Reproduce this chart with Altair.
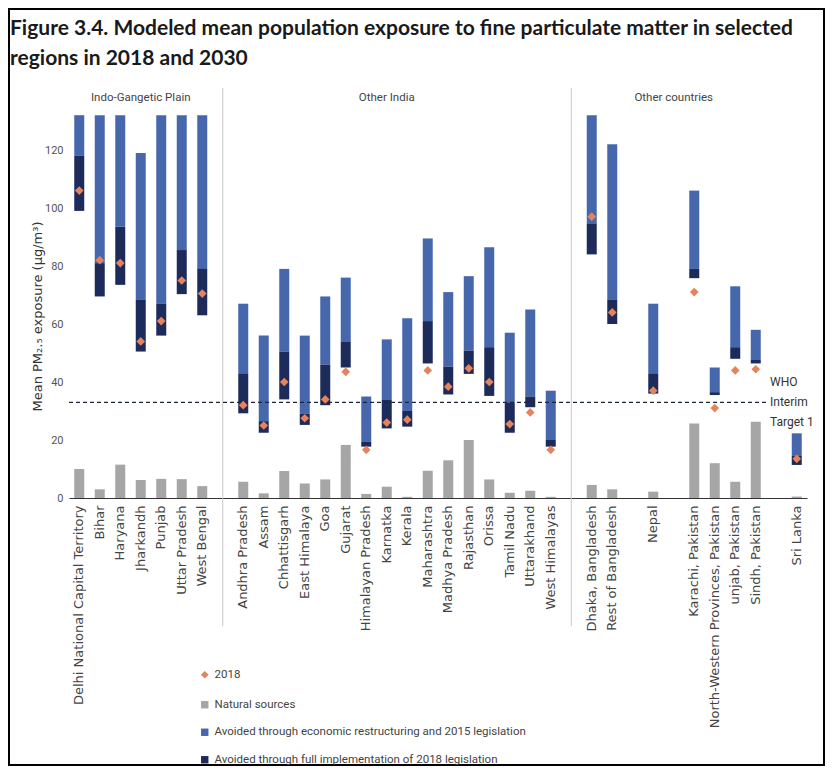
import altair as alt
import pandas as pd

# ---------------- data ----------------
igp = ["Delhi National Capital Territory", "Bihar", "Haryana", "Jharkandh",
       "Punjab", "Uttar Pradesh", "West Bengal"]
other_india = ["Andhra Pradesh", "Assam", "Chhattisgarh", "East Himalaya", "Goa",
               "Gujarat", "Himalayan Pradesh", "Karnatka", "Kerala", "Maharashtra",
               "Madhya Pradesh", "Rajasthan", "Orissa", "Tamil Nadu", "Uttarakhand",
               "West Himalayas"]
bangladesh = ["Dhaka, Bangladesh", "Rest of Bangladesh"]
nepal = ["Nepal"]
pakistan = ["Karachi, Pakistan", "North-Western Provinces, Pakistan",
            "unjab, Pakistan", "Sindh, Pakistan"]
sri_lanka = ["Sri Lanka"]

regions = igp + other_india + bangladesh + nepal + pakistan + sri_lanka

# top of light-blue bar (2030 without new policies)
baseline_2030 = [132, 132, 132, 119, 132, 132, 132,
                 67, 56, 79, 56, 69.5, 76, 35, 54.7, 62, 89.5, 71, 76.5, 86.5, 57, 65, 37,
                 132, 122, 67, 106, 45, 73, 58, 22.3]
# boundary between light-blue and dark-blue segments
after_2015 = [118, 81, 93.5, 68.5, 67, 85.5, 79,
              43, 26.5, 50.5, 29, 46, 54, 19.5, 33.8, 30, 61, 45.3, 50.8, 52, 33, 35, 20,
              94.5, 68.5, 43, 79, 36.5, 52, 47.8, 14.5]
# bottom of dark-blue bar (2030 with full 2018 legislation)
after_2018 = [99, 69.5, 73.5, 50.5, 56, 70.3, 63,
              29.2, 22.5, 34, 25.2, 32, 45, 17.7, 24, 24.6, 46.4, 35.7, 42.8, 35.2, 22.5, 31.3, 17.7,
              84, 60, 36, 75.8, 35.5, 48, 46.4, 11.4]
exposure_2018 = [106, 82, 81, 54, 61, 75, 70.5,
                 32, 25, 40, 27.5, 34, 43.5, 16.6, 26, 27, 44, 38.4, 44.7, 40, 25.5, 29.5, 16.6,
                 97, 64, 37, 71, 31, 44, 44.4, 13.5]
natural = [10, 3, 11.5, 6.2, 6.6, 6.5, 4.1,
           5.6, 1.6, 9.3, 5, 6.4, 18.3, 1.4, 3.9, 0.4, 9.4, 13, 20, 6.4, 1.8, 2.5, 0.4,
           4.5, 3, 2.2, 25.7, 12, 5.6, 26.3, 0.5]

series_names = ["Natural sources",
                "Avoided through economic restructuring and 2015 legislation",
                "Avoided through full implementation of 2018 legislation"]
series_colors = ["#A6A6A6", "#4767AD", "#1D2B5B"]

who_target = [33]
who_label = ["WHO", "Interim", "Target 1"]
group_labels = ["Indo-Gangetic Plain", "Other India", "Other countries"]
y_ticks = [0, 20, 40, 60, 80, 100, 120]

# ---------------- layout helpers ----------------
gaps = ["gap1", "gap2", "gap3", "gap4", "gap5"]
x_domain = (igp + [gaps[0]] + other_india + [gaps[1]] + bangladesh + [gaps[2]]
            + nepal + [gaps[3]] + pakistan + [gaps[4]] + sri_lanka)
group_anchor = ["Jharkandh", "Karnatka", "gap4"]

rows = []
for i, r in enumerate(regions):
    rows.append({"region": r, "series": series_names[0], "lo": 0, "hi": natural[i]})
    rows.append({"region": r, "series": series_names[1], "lo": after_2015[i], "hi": baseline_2030[i]})
    rows.append({"region": r, "series": series_names[2], "lo": after_2018[i], "hi": after_2015[i]})
bars_df = pd.DataFrame(rows)
pts_df = pd.DataFrame({"region": regions, "value": exposure_2018, "key": ["2018"] * len(regions)})
sep_df = pd.DataFrame({"region": [gaps[0], gaps[1]]})
who_df = pd.DataFrame({"v": who_target})
grp_df = pd.DataFrame({"region": group_anchor, "label": group_labels, "v": [138] * 3})

W, H = 738, 406
FONT = "Roboto"
LFONT = "DejaVu Sans"
Y_TITLE = "Mean PM₂.₅ exposure (µg/m³)"

xscale = alt.Scale(domain=x_domain, paddingInner=0, paddingOuter=0)
yscale = alt.Scale(domain=[0, 140], nice=False, zero=True)

xaxis = alt.Axis(title=None, labelAngle=-90, ticks=False, labelPadding=7,
                 labelFont=LFONT, labelFontSize=13, labelColor="#444",
                 domainColor="#333", domainWidth=1, labelLimit=400, grid=False,
                 labelExpr="indexof(datum.value, 'gap') === 0 ? '' : datum.value")
yaxis = alt.Axis(title=Y_TITLE, values=y_ticks,
                 ticks=False, domain=False, grid=False, labelPadding=6,
                 labelFont=FONT, labelFontSize=11, labelColor="#555",
                 titleFont=LFONT, titleFontSize=13, titleFontWeight="normal",
                 titleColor="#333", titleX=-32, titleY=224, titleAngle=-90,
                 titleAlign="center", titleBaseline="middle")


def X():
    return alt.X("region:N", scale=xscale, sort=x_domain, axis=xaxis, title=None)


def Y(field):
    return alt.Y(field, scale=yscale, axis=yaxis, title=Y_TITLE)


bars = alt.Chart(bars_df).mark_bar(size=10).encode(
    x=X(),
    y=Y("lo:Q"),
    y2="hi:Q",
    color=alt.Color("series:N", scale=alt.Scale(domain=series_names, range=series_colors),
                    legend=alt.Legend(title=None, orient="none", legendX=130, legendY=607,
                                      symbolType="square", symbolSize=55, symbolStrokeWidth=0,
                                      labelFont=FONT, labelFontSize=11.5, labelColor="#444",
                                      rowPadding=14.5, padding=0, labelLimit=500)),
)

points = alt.Chart(pts_df).mark_point(filled=True, size=75, color="#E4835C", opacity=1).encode(
    x=X(),
    y=Y("value:Q"),
    shape=alt.Shape("key:N", scale=alt.Scale(domain=["2018"], range=["diamond"]),
                    legend=alt.Legend(title=None, orient="none", legendX=130, legendY=577,
                                      symbolSize=60, labelFont=FONT, labelFontSize=11.5,
                                      labelColor="#444", padding=0)),
)

seps = alt.Chart(sep_df).mark_rule(color="#C8C8C8", strokeWidth=1).encode(
    x=X(),
    y=alt.value(-4),
    y2=alt.value(H + 128),
)

who_line = alt.Chart(who_df).mark_rule(color="#1D2440", strokeWidth=1.3, strokeDash=[4, 3]).encode(
    y=Y("v:Q"),
    x=alt.value(0),
    x2=alt.value(698),
)

who_text = alt.Chart(who_df).mark_text(align="left", baseline="middle", font=FONT, fontSize=12,
                                       color="#333", lineHeight=20, dy=-20).encode(
    y=Y("v:Q"),
    x=alt.value(701),
    text=alt.value(who_label),
)

grp_text = alt.Chart(grp_df).mark_text(align="center", baseline="middle", font=FONT,
                                       fontSize=11.5, color="#444").encode(
    x=X(),
    y=Y("v:Q"),
    text="label:N",
)

frame = alt.Chart(who_df).mark_rect(fill=None, stroke="#000", strokeWidth=2).encode(
    x=alt.value(-60), x2=alt.value(W + 17), y=alt.value(-83), y2=alt.value(H + 267),
)

chart = alt.layer(seps, bars, who_line, points, who_text, grp_text, frame).properties(
    width=W, height=H,
    title=alt.Title(
        text=["Figure 3.4. Modeled mean population exposure to fine particulate matter in selected",
              "regions in 2018 and 2030"],
        anchor="start", frame="group", dx=-59, dy=82, offset=0, baseline="bottom",
        font="Lato", fontSize=21, fontWeight="bold", color="#1a1a1a", lineHeight=30),
    autosize=alt.AutoSizeParams(type="none"),
    padding={"left": 61, "top": 84, "right": 18, "bottom": 268},
).configure_view(stroke=None).resolve_scale(color="independent")

chart.save("out.html", embed_options={"renderer": "svg", "actions": False})
